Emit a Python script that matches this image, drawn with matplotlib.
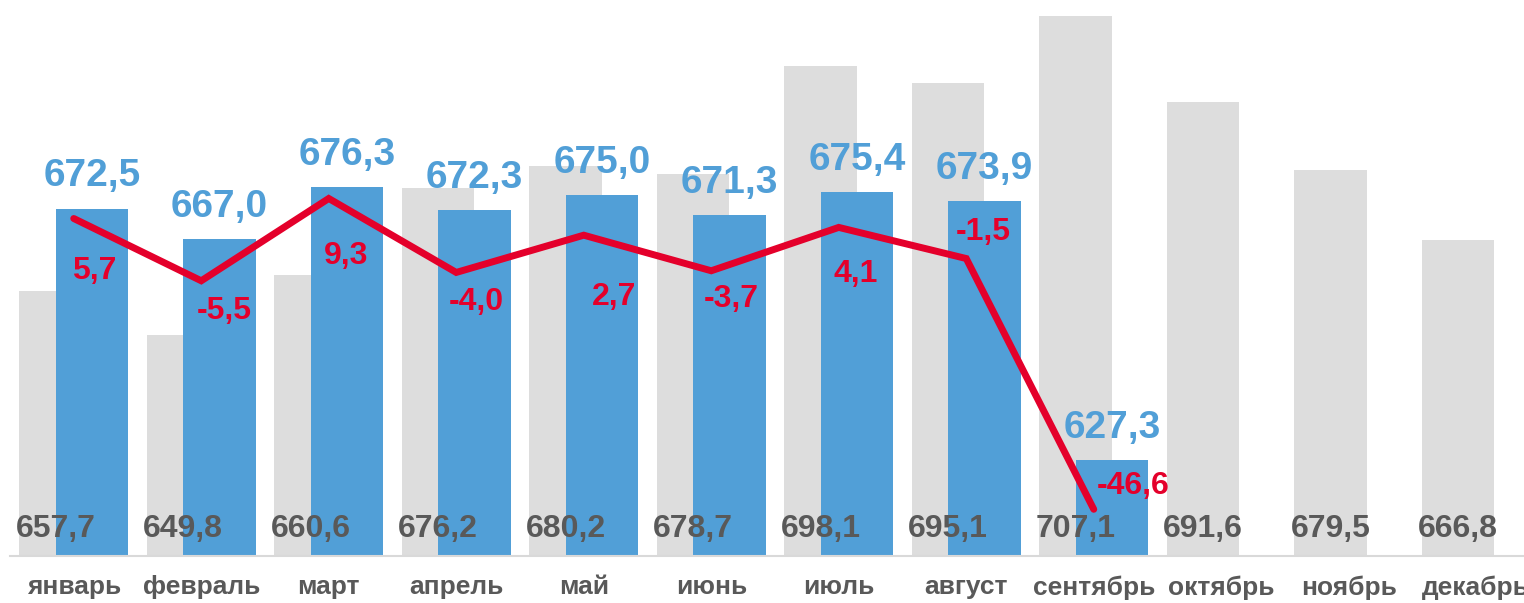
#!/usr/bin/env python
"""Monthly values: previous year (grey), current year (blue), change (red line)."""
import numpy as np
import matplotlib.pyplot as plt

months = ['январь', 'февраль', 'март', 'апрель', 'май', 'июнь',
          'июль', 'август', 'сентябрь', 'октябрь', 'ноябрь', 'декабрь']
prev_year = [657.7, 649.8, 660.6, 676.2, 680.2, 678.7,
             698.1, 695.1, 707.1, 691.6, 679.5, 666.8]
curr_year = [672.5, 667.0, 676.3, 672.3, 675.0, 671.3,
             675.4, 673.9, 627.3]
change = [5.7, -5.5, 9.3, -4.0, 2.7, -3.7, 4.1, -1.5, -46.6]

# label offsets for the red line labels (pixels: right, down)
change_label_offsets = [(20, 52), (23, 30), (17, 58), (20, 30), (30, 62),
                        (20, 28), (17, 47), (17, -27), (39, -23)]

GREY = '#DDDDDD'
BLUE = '#519FD7'
RED = '#E4002B'
TEXT = '#595959'
PX = 0.72  # points per pixel at dpi 100

plt.rcParams['font.family'] = ['Liberation Sans', 'DejaVu Sans']

fig = plt.figure(figsize=(15.24, 6.03), dpi=100)
ax = fig.add_axes([10 / 1524, 47 / 603, 1530 / 1524, 556 / 603])

x = np.arange(len(months))
xc = np.arange(len(curr_year))
w = 0.565
off = 0.143

ax.bar(x - off, prev_year, width=w, color=GREY, zorder=1)
ax.bar(xc + off, curr_year, width=w, color=BLUE, zorder=2)

ax.set_ylim(610, 710)
ax.set_xlim(-0.5, 11.5)

for xi, v in zip(x, prev_year):
    ax.annotate(f'{v:.1f}'.replace('.', ','), xy=(xi - off, 610),
                xytext=(0, 27 * PX), textcoords='offset points',
                ha='center', va='center', fontsize=23, fontweight='bold',
                color=TEXT, zorder=5)

for xi, v in zip(xc, curr_year):
    ax.annotate(f'{v:.1f}'.replace('.', ','), xy=(xi + off, v),
                xytext=(0, 32 * PX), textcoords='offset points',
                ha='center', va='center', fontsize=28, fontweight='bold',
                color=BLUE, zorder=5)

ax2 = ax.twinx()
ax2.plot(xc, change, color=RED, linewidth=5, solid_capstyle='round',
         solid_joinstyle='miter', zorder=3)
ax2.set_ylim(-55, 45)

for xi, v, (dx, dy) in zip(xc, change, change_label_offsets):
    ax2.annotate(f'{v:.1f}'.replace('.', ','), xy=(xi, v),
                 xytext=(dx * PX, -dy * PX), textcoords='offset points',
                 ha='center', va='center', fontsize=23, fontweight='bold',
                 color=RED, zorder=6)

ax.set_xticks(x)
ax.set_xticklabels(months, fontsize=19, fontweight='bold', color=TEXT)
ax.tick_params(axis='x', length=0, pad=14)
ax.set_yticks([])
ax2.set_yticks([])
for a in (ax, ax2):
    for s in ('top', 'left', 'right', 'bottom'):
        a.spines[s].set_visible(False)
ax.spines['bottom'].set_visible(True)
ax.spines['bottom'].set_color('#D9D9D9')
ax.spines['bottom'].set_linewidth(1.5)

fig.savefig('out.png', dpi=100)
